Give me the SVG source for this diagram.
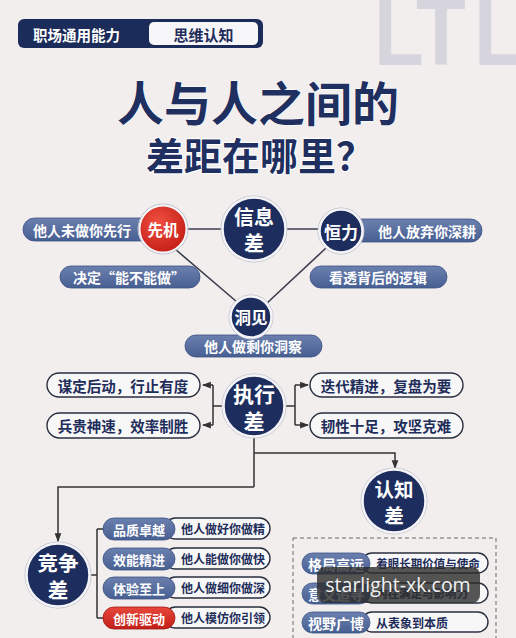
<svg xmlns="http://www.w3.org/2000/svg" width="516" height="638" viewBox="0 0 516 638">
<defs>
<linearGradient id="pillG" x1="0" y1="0" x2="0" y2="1"><stop offset="0" stop-color="#6b80ae"/><stop offset="1" stop-color="#475f92"/></linearGradient>
<linearGradient id="redG" x1="0" y1="0" x2="0" y2="1"><stop offset="0" stop-color="#e8473a"/><stop offset="1" stop-color="#c11f18"/></linearGradient>
<radialGradient id="redC" cx="0.4" cy="0.35" r="0.7"><stop offset="0" stop-color="#ee5040"/><stop offset="1" stop-color="#c41c16"/></radialGradient>
<marker id="arr" viewBox="0 0 8 8" refX="7" refY="4" markerWidth="6" markerHeight="6" orient="auto"><path d="M0,1 L8,4 L0,7 z" fill="#333"/></marker>
</defs>
<style>
.cn{font-family:"Noto Sans CJK SC","Noto Sans",sans-serif;font-weight:700}
.wt{fill:#ffffff}
.dk{fill:#1e2d5a}
.navy{fill:#1d2e5e;stroke:#f4f4f8;stroke-width:2.5}
.ring{fill:none;stroke:#b8bcc8;stroke-width:1}
.bpill{fill:url(#pillG);stroke:#3d5283;stroke-width:0.8}
.wpill{fill:#f7f7f8;stroke:#2a2f3e;stroke-width:1.4}
.ln{stroke:#3a3f4c;stroke-width:1.6;fill:none}
.ca{stroke:#333;stroke-width:1.5;fill:none}
.bg{font-family:"Liberation Sans",sans-serif;font-weight:700;font-size:96px;fill:#d6d5dd}
</style>
<rect x="0" y="0" width="516" height="638" fill="#f2eeee"/>
<g id="bg-letters">
<text class="bg" transform="translate(374,65) scale(0.85,1)">L</text>
<text class="bg" transform="translate(416,65) scale(0.85,1)">T</text>
<text class="bg" transform="translate(474,65) scale(0.85,1)">L</text>
</g>

<g id="header">
<rect x="18" y="19" width="245" height="29" rx="6" fill="#1c2c5a"/>
<rect x="149" y="22" width="109" height="23" rx="5" fill="#f6f6f8"/>
<text class="cn wt" x="33" y="34.5" font-size="14.5" dominant-baseline="central">职场通用能力</text>
<text class="cn dk" x="203.5" y="34" font-size="15" text-anchor="middle" dominant-baseline="central">思维认知</text>
</g>

<g id="title">
<text class="cn" x="258" y="121" font-size="47" text-anchor="middle" fill="#1f2f5f" stroke="#ffffff" stroke-width="1" paint-order="stroke">人与人之间的</text>
<text class="cn" x="260" y="170" font-size="38" text-anchor="middle" fill="#1f2f5f" stroke="#ffffff" stroke-width="2" paint-order="stroke">差距在哪里？</text>
</g>

<g id="connectors">
<line class="ln" x1="185" y1="229" x2="224" y2="229"/>
<line class="ln" x1="286" y1="229" x2="320" y2="229"/>
<line class="ln" x1="175" y1="249" x2="237" y2="302"/>
<line class="ln" x1="326" y1="248" x2="266" y2="304"/>
<path class="ca" d="M223,406 H213 M213,385 V425 M213,385 H203" marker-end="url(#arr)"/>
<path class="ca" d="M213,425 H203" marker-end="url(#arr)"/>
<path class="ca" d="M285,406 H295 M295,385 V425 M295,385 H308" marker-end="url(#arr)"/>
<path class="ca" d="M295,425 H308" marker-end="url(#arr)"/>
<path class="ca" d="M254,437 V487"/>
<path class="ca" d="M254,453 H395 V468" marker-end="url(#arr)"/>
<path class="ca" d="M254,487 H58 V541" marker-end="url(#arr)"/>
<path class="ca" d="M90,575 H97 M97,529 V618 M97,529 H104 M97,618 H104"/>
</g>

<g id="pill-weilai">
<rect class="bpill" x="23" y="218" width="130" height="23" rx="11.5"/>
<text class="cn wt" x="82" y="229.5" font-size="14" text-anchor="middle" dominant-baseline="central">他人未做你先行</text>
</g>
<g id="pill-fangqi">
<rect class="bpill" x="350" y="219" width="132" height="23" rx="11.5"/>
<text class="cn wt" x="427" y="230.5" font-size="14" text-anchor="middle" dominant-baseline="central">他人放弃你深耕</text>
</g>
<g id="pill-jueding">
<rect class="bpill" x="60" y="266" width="140" height="22" rx="11"/>
<text class="cn wt" x="129" y="277" font-size="14" text-anchor="middle" dominant-baseline="central">决定“能不能做”</text>
</g>
<g id="pill-kantou">
<rect class="bpill" x="310" y="266" width="137" height="22" rx="11"/>
<text class="cn wt" x="378" y="277" font-size="14" text-anchor="middle" dominant-baseline="central">看透背后的逻辑</text>
</g>
<g id="pill-dongcha">
<rect class="bpill" x="185" y="335" width="137" height="22" rx="11"/>
<text class="cn wt" x="253" y="346" font-size="14" text-anchor="middle" dominant-baseline="central">他人做剩你洞察</text>
</g>

<g id="node-xianji">
<circle cx="163" cy="229" r="25" class="ring"/>
<circle cx="163" cy="229" r="23.5" fill="url(#redC)" stroke="#f4f4f8" stroke-width="2"/>
<text class="cn wt" x="163" y="229" font-size="15.5" text-anchor="middle" dominant-baseline="central">先机</text>
</g>
<g id="node-xinxicha">
<circle cx="254" cy="229" r="33" class="ring"/>
<circle cx="254" cy="229" r="31.5" class="navy"/>
<text class="cn wt" x="254" y="216.5" font-size="20" text-anchor="middle" dominant-baseline="central">信息</text>
<text class="cn wt" x="254" y="242.5" font-size="20" text-anchor="middle" dominant-baseline="central">差</text>
</g>
<g id="node-hengli">
<circle cx="341" cy="231" r="23" class="ring"/>
<circle cx="341" cy="231" r="21.5" class="navy"/>
<text class="cn wt" x="341" y="231" font-size="17" text-anchor="middle" dominant-baseline="central">恒力</text>
</g>
<g id="node-dongjian">
<circle cx="251" cy="317" r="22" class="ring"/>
<circle cx="251" cy="317" r="20.5" class="navy"/>
<text class="cn wt" x="251" y="317" font-size="16.5" text-anchor="middle" dominant-baseline="central">洞见</text>
</g>

<g id="node-zhixingcha">
<circle cx="254" cy="406" r="32" class="ring"/>
<circle cx="254" cy="406" r="30.5" class="navy"/>
<text class="cn wt" x="254" y="392.5" font-size="21" text-anchor="middle" dominant-baseline="central">执行</text>
<text class="cn wt" x="254" y="419.5" font-size="21" text-anchor="middle" dominant-baseline="central">差</text>
</g>
<g id="exec-l1">
<rect class="wpill" x="47" y="373" width="153" height="24" rx="12"/>
<text class="cn dk" x="123" y="385" font-size="14.5" text-anchor="middle" dominant-baseline="central">谋定后动，行止有度</text>
</g>
<g id="exec-l2">
<rect class="wpill" x="47" y="413" width="153" height="25" rx="12.5"/>
<text class="cn dk" x="123" y="425.5" font-size="14.5" text-anchor="middle" dominant-baseline="central">兵贵神速，效率制胜</text>
</g>
<g id="exec-r1">
<rect class="wpill" x="310" y="373" width="153" height="24" rx="12"/>
<text class="cn dk" x="386" y="385" font-size="14.5" text-anchor="middle" dominant-baseline="central">迭代精进，复盘为要</text>
</g>
<g id="exec-r2">
<rect class="wpill" x="310" y="413" width="153" height="25" rx="12.5"/>
<text class="cn dk" x="386" y="425.5" font-size="14.5" text-anchor="middle" dominant-baseline="central">韧性十足，攻坚克难</text>
</g>

<g id="node-renzhicha">
<circle cx="394" cy="501" r="33" class="ring"/>
<circle cx="394" cy="501" r="31.5" class="navy"/>
<text class="cn wt" x="394" y="488.5" font-size="19.5" text-anchor="middle" dominant-baseline="central">认知</text>
<text class="cn wt" x="394" y="514.5" font-size="19.5" text-anchor="middle" dominant-baseline="central">差</text>
</g>
<g id="node-jingzhengcha">
<circle cx="58" cy="575" r="33" class="ring"/>
<circle cx="58" cy="575" r="31.5" class="navy"/>
<text class="cn wt" x="58" y="562" font-size="20.5" text-anchor="middle" dominant-baseline="central">竞争</text>
<text class="cn wt" x="58" y="589" font-size="20.5" text-anchor="middle" dominant-baseline="central">差</text>
</g>

<g id="comp-1">
<rect class="wpill" x="165" y="518" width="105" height="21" rx="10.5"/>
<rect class="bpill" x="103" y="518" width="72" height="22" rx="11"/>
<text class="cn wt" x="139" y="529" font-size="13" text-anchor="middle" dominant-baseline="central">品质卓越</text>
<text class="cn dk" x="223" y="528.5" font-size="12" text-anchor="middle" dominant-baseline="central">他人做好你做精</text>
</g>
<g id="comp-2">
<rect class="wpill" x="165" y="548" width="105" height="21" rx="10.5"/>
<rect class="bpill" x="103" y="548" width="72" height="22" rx="11"/>
<text class="cn wt" x="139" y="559" font-size="13" text-anchor="middle" dominant-baseline="central">效能精进</text>
<text class="cn dk" x="223" y="558.5" font-size="12" text-anchor="middle" dominant-baseline="central">他人能做你做快</text>
</g>
<g id="comp-3">
<rect class="wpill" x="165" y="577" width="105" height="21" rx="10.5"/>
<rect class="bpill" x="103" y="577" width="72" height="22" rx="11"/>
<text class="cn wt" x="139" y="588" font-size="13" text-anchor="middle" dominant-baseline="central">体验至上</text>
<text class="cn dk" x="223" y="587.5" font-size="12" text-anchor="middle" dominant-baseline="central">他人做细你做深</text>
</g>
<g id="comp-4">
<rect class="wpill" x="165" y="607" width="105" height="21" rx="10.5"/>
<rect x="103" y="607" width="72" height="22" rx="11" fill="url(#redG)" stroke="#9e1812" stroke-width="0.8"/>
<text class="cn wt" x="139" y="618" font-size="13" text-anchor="middle" dominant-baseline="central">创新驱动</text>
<text class="cn dk" x="223" y="617.5" font-size="12" text-anchor="middle" dominant-baseline="central">他人模仿你引领</text>
</g>

<g id="cognition-box">
<rect x="293" y="538" width="203" height="110" fill="none" stroke="#666" stroke-width="1" stroke-dasharray="4 3"/>
</g>
<g id="cog-1">
<rect class="wpill" x="362" y="553" width="126" height="20" rx="10"/>
<rect class="bpill" x="302" y="553" width="68" height="21" rx="10.5"/>
<text class="cn wt" x="336" y="563.5" font-size="14" text-anchor="middle" dominant-baseline="central">格局高远</text>
<text class="cn dk" x="428" y="563" font-size="11.5" text-anchor="middle" dominant-baseline="central">着眼长期价值与使命</text>
</g>
<g id="cog-2">
<rect class="wpill" x="362" y="583" width="126" height="20" rx="10"/>
<rect class="bpill" x="302" y="583" width="68" height="21" rx="10.5"/>
<text class="cn wt" x="336" y="593.5" font-size="14" text-anchor="middle" dominant-baseline="central">意义追寻</text>
<text class="cn dk" x="422" y="593" font-size="11.5" text-anchor="middle" dominant-baseline="central">内在满足与影响力</text>
</g>
<g id="cog-3">
<rect class="wpill" x="362" y="612" width="126" height="20" rx="10"/>
<rect class="bpill" x="302" y="612" width="68" height="21" rx="10.5"/>
<text class="cn wt" x="336" y="622.5" font-size="14" text-anchor="middle" dominant-baseline="central">视野广博</text>
<text class="cn dk" x="412" y="622" font-size="12" text-anchor="middle" dominant-baseline="central">从表象到本质</text>
</g>

<g id="watermark">
<rect x="317" y="567" width="163" height="36" rx="8" fill="#2a2c2a" fill-opacity="0.8"/>
<text x="398" y="592" font-family="Open Sans, DejaVu Sans, sans-serif" font-size="19.5" fill="#f2f2f2" text-anchor="middle">starlight-xk.com</text>
</g>
</svg>
